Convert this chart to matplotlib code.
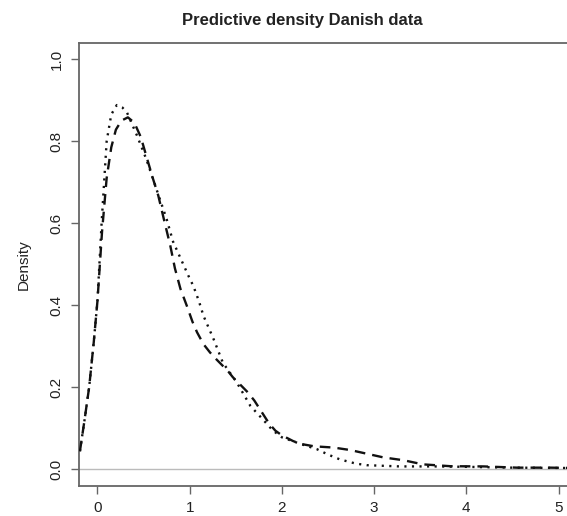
import matplotlib
matplotlib.use("Agg")
import matplotlib.pyplot as plt

# dashed curve (lty 2)
dash_x = [-0.19, -0.14, -0.09, -0.04, 0.0, 0.05, 0.10, 0.15, 0.20, 0.26, 0.33, 0.40, 0.47,
          0.54, 0.60, 0.66, 0.72, 0.79, 0.84, 0.90, 0.97, 1.03, 1.08, 1.15, 1.22, 1.29,
          1.36, 1.42, 1.47, 1.55, 1.62, 1.70, 1.78, 1.86, 1.93, 1.98, 2.05, 2.12, 2.20, 2.35,
          2.56, 2.74, 2.90, 3.10, 3.32, 3.53, 3.83, 4.19, 4.55, 4.91, 5.20]
dash_y = [0.044, 0.12, 0.20, 0.31, 0.41, 0.58, 0.71, 0.785, 0.828, 0.85, 0.858, 0.845, 0.81,
          0.756, 0.71, 0.667, 0.61, 0.545, 0.49, 0.44, 0.398, 0.36, 0.334, 0.305, 0.285, 0.268,
          0.252, 0.238, 0.224, 0.206, 0.19, 0.168, 0.14, 0.112, 0.094, 0.086, 0.077, 0.069, 0.062, 0.056,
          0.053, 0.047, 0.039, 0.029, 0.022, 0.012, 0.0075, 0.007, 0.004, 0.004, 0.003]

# dotted curve (lty 3)
dot_x = [-0.19, -0.14, -0.09, -0.04, 0.0, 0.045, 0.10, 0.15, 0.21, 0.27, 0.32, 0.43, 0.53,
         0.64, 0.75, 0.82, 0.93, 1.00, 1.04, 1.10, 1.15, 1.26, 1.36, 1.51, 1.66, 1.80, 1.90,
         2.00, 2.20, 2.38, 2.50, 2.63, 2.80, 2.92, 3.28, 3.65, 4.00, 4.50, 5.20]
dot_y = [0.044, 0.12, 0.20, 0.31, 0.41, 0.60, 0.80, 0.865, 0.888, 0.882, 0.87, 0.813, 0.756,
         0.683, 0.61, 0.555, 0.50, 0.465, 0.447, 0.41, 0.374, 0.317, 0.26, 0.212, 0.154, 0.12, 0.095,
         0.078, 0.062, 0.049, 0.036, 0.024, 0.014, 0.010, 0.007, 0.007, 0.006, 0.004, 0.003]

title = "Predictive density Danish data"
ylabel = "Density"
xticks = [0, 1, 2, 3, 4, 5]
yticks = [0.0, 0.2, 0.4, 0.6, 0.8, 1.0]

plt.rcParams['font.family'] = ['Liberation Sans', 'DejaVu Sans']

W, H = 567, 516
fig = plt.figure(figsize=(W / 100, H / 100), dpi=100)
left, right = 79, 577
top, bottom = 42.7, 485.7
ax = fig.add_axes([left / W, 1 - bottom / H, (right - left) / W, (bottom - top) / H])

ax.axhline(0, color="#bbbbbb", lw=1.0, zorder=1)
lw = 1.7
ax.plot(dash_x, dash_y, color="#111111", lw=lw, dashes=(4.5, 3.0), zorder=3)
ax.plot(dot_x, dot_y, color="#111111", lw=lw, dashes=(0.9, 2.3), zorder=3)

ax.set_xlim(-0.2, 5.2)
ax.set_ylim(-0.04, 1.04)
ax.set_xticks(xticks)
ax.set_xticklabels([str(t) for t in xticks])
ax.set_yticks(yticks)
ax.set_yticklabels([f"{t:.1f}" for t in yticks], rotation=90, va="center")

for s in ax.spines.values():
    s.set_color("#666666")
    s.set_linewidth(1.3)
ax.tick_params(axis="both", direction="out", length=6, width=1.0, color="#666666",
               labelsize=11, labelcolor="#222222", pad=5)
ax.set_ylabel(ylabel, fontsize=11, color="#222222", labelpad=14)

fig.text(302 / W, 1 - 20 / H, title, ha="center", va="center", fontsize=12,
         fontweight="bold", color="#222222")

fig.savefig("out.png", dpi=100)
